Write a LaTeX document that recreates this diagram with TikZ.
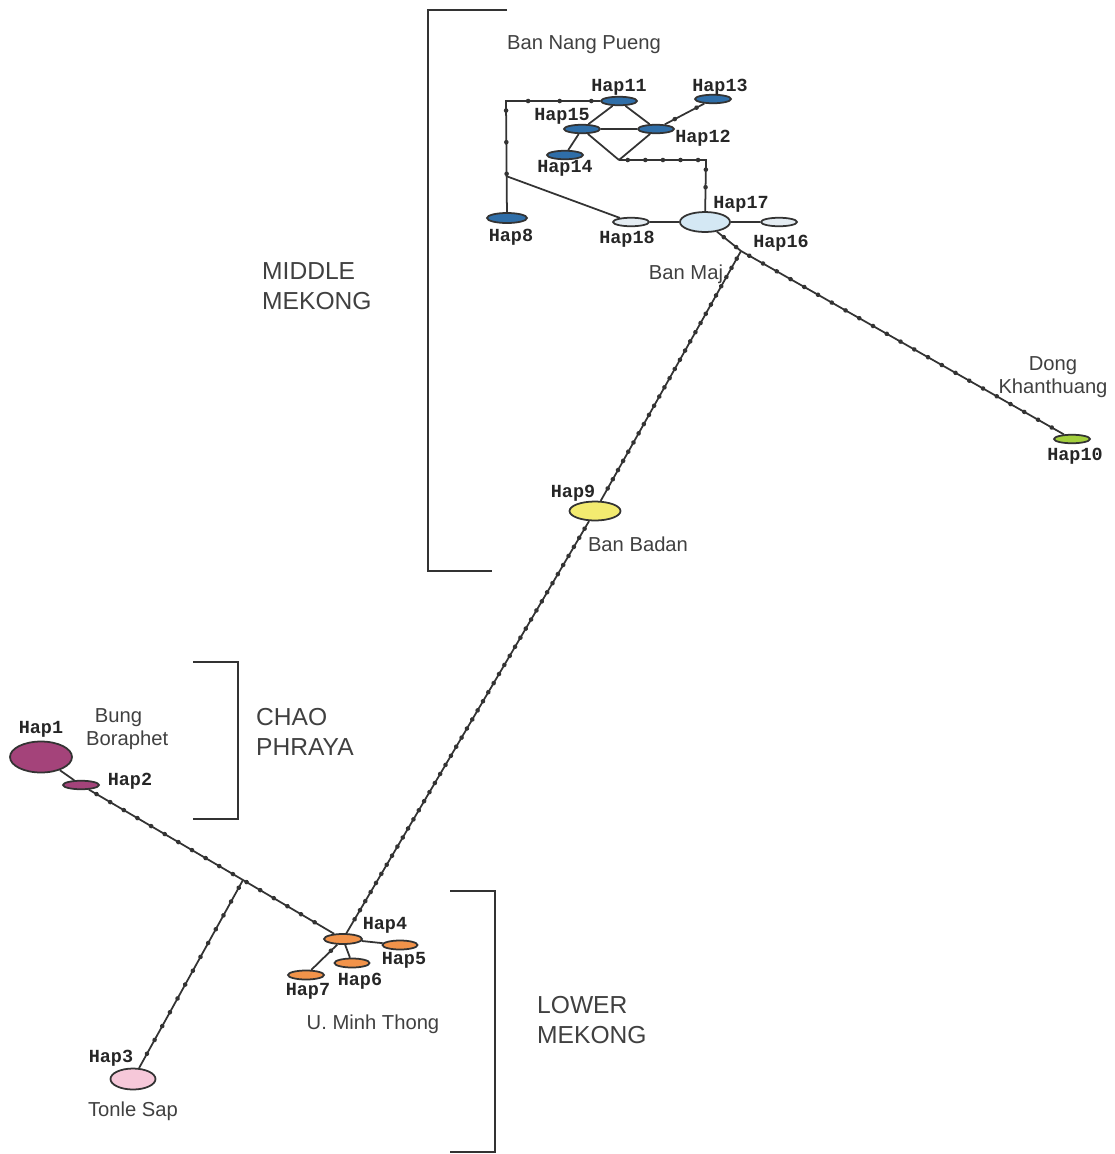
\documentclass[tikz,border=0pt]{standalone}
\usepackage{fontspec}
\setmainfont{Liberation Sans}
\newfontfamily\hapfont{Liberation Mono}
\usepackage{tikz}
\usetikzlibrary{shapes.geometric,decorations.markings}

\definecolor{linegray}{HTML}{333333}
\definecolor{textgray}{HTML}{404040}
\definecolor{hapblue}{HTML}{2F6EA8}
\definecolor{hapice}{HTML}{D4E8F4}
\definecolor{hapwhite}{HTML}{E4ECF2}
\definecolor{hapgreen}{HTML}{A3CF3E}
\definecolor{hapyellow}{HTML}{F3EB70}
\definecolor{haporange}{HTML}{F2934A}
\definecolor{hapmagenta}{HTML}{A4437A}
\definecolor{happink}{HTML}{F6C8D9}

\begin{document}
\begin{tikzpicture}[x=0.02cm,y=-0.02cm,
  hap/.style={ellipse,draw=linegray,line width=1pt,inner sep=0pt},
  thin/.style={minimum width=.72cm,minimum height=.17cm},
  haptxt/.style={font=\hapfont\bfseries\fontsize{10.5}{12}\selectfont,text=black!85},
  place/.style={font=\fontsize{11.5}{13.5}\selectfont,text=textgray,align=center},
  region/.style={font=\fontsize{14}{17}\selectfont,text=textgray,align=left,anchor=west},
  link/.style={draw=linegray,line width=1pt},
  muts/.style={link,postaction={decorate,decoration={markings,
    mark=between positions 5pt and -5pt step #1 with {\fill[linegray] (0,0) circle (1.3pt);}}}},
  muts/.default=9pt,
  bracket/.style={draw=linegray,line width=1.1pt}]
  \useasboundingbox (0,0) rectangle (1115,1154);

  \node[hap,thin,fill=hapblue] (hap11) at (619,101) {};
  \node[hap,thin,fill=hapblue] (hap13) at (713,99) {};
  \node[hap,thin,fill=hapblue] (hap15) at (582,129) {};
  \node[hap,thin,fill=hapblue] (hap12) at (656,129) {};
  \node[hap,thin,fill=hapblue] (hap14) at (565,155) {};
  \node[hap,fill=hapblue,minimum width=.8cm,minimum height=.2cm] (hap8) at (507,218) {};
  \node[hap,thin,fill=hapwhite] (hap18) at (631,222) {};
  \node[hap,fill=hapice,minimum width=1cm,minimum height=.4cm] (hap17) at (705,222) {};
  \node[hap,thin,fill=hapwhite] (hap16) at (779,222) {};
  \node[hap,thin,fill=hapgreen] (hap10) at (1072,439) {};
  \node[hap,fill=hapyellow,minimum width=1.02cm,minimum height=.38cm] (hap9) at (595,511) {};
  \node[hap,fill=hapmagenta,minimum width=1.24cm,minimum height=.62cm] (hap1) at (41,757) {};
  \node[hap,thin,fill=hapmagenta] (hap2) at (81,785) {};
  \node[hap,fill=haporange,minimum width=.76cm,minimum height=.2cm] (hap4) at (343,939) {};
  \node[hap,fill=haporange,minimum width=.7cm,minimum height=.18cm] (hap5) at (400,945) {};
  \node[hap,fill=haporange,minimum width=.7cm,minimum height=.18cm] (hap6) at (352,963) {};
  \node[hap,fill=haporange,minimum width=.72cm,minimum height=.18cm] (hap7) at (306,975) {};
  \node[hap,fill=happink,minimum width=.9cm,minimum height=.42cm] (hap3) at (133,1079) {};

  \coordinate (c1) at (506,101);
  \coordinate (c2) at (506,176);
  \coordinate (mv) at (619,160);
  \coordinate (c3) at (706,160);
  \coordinate (bm) at (741,251);
  \coordinate (jn) at (243,880);

  \draw[muts=18pt] (hap11) -- (c1) -- (hap8);
  \draw[link] (c2) -- (hap18);
  \draw[link] (hap11) -- (hap15);
  \draw[link] (hap11) -- (hap12);
  \draw[link] (hap15) -- (hap12);
  \draw[link] (hap15) -- (mv);
  \draw[link] (hap15) -- (hap14);
  \draw[link] (mv) -- (hap12);
  \draw[muts=14pt] (hap13) -- (hap12);
  \draw[muts=10pt] (mv) -- (c3) -- (hap17);
  \draw[link] (hap18) -- (hap17) -- (hap16);
  \draw[muts] (hap17) -- (bm) -- (hap10);
  \draw[muts=6pt] (bm) -- (hap9);
  \draw[muts=6pt] (hap9) -- (hap4);
  \draw[link] (hap1) -- (hap2);
  \draw[muts] (hap2) -- (jn) -- (hap4);
  \draw[muts] (jn) -- (hap3);
  \draw[link] (hap4) -- (hap5);
  \draw[link] (hap4) -- (hap6);
  \draw[muts=12pt] (hap4) -- (hap7);

  \node[haptxt] (t11) at (619,87) {Hap11};
  \node[haptxt] (t13) at (720,87) {Hap13};
  \node[haptxt] (t15) at (562,116) {Hap15};
  \node[haptxt] (t12) at (703,138) {Hap12};
  \node[haptxt] (t14) at (565,168) {Hap14};
  \node[haptxt] (t8) at (511,237) {Hap8};
  \node[haptxt] (t18) at (627,239) {Hap18};
  \node[haptxt] (t17) at (741,204) {Hap17};
  \node[haptxt] (t16) at (781,243) {Hap16};
  \node[haptxt] (t10) at (1075,456) {Hap10};
  \node[haptxt] (t9) at (573,493) {Hap9};
  \node[haptxt] (t1) at (41,729) {Hap1};
  \node[haptxt] (t2) at (130,781) {Hap2};
  \node[haptxt] (t4) at (385,925) {Hap4};
  \node[haptxt] (t5) at (404,960) {Hap5};
  \node[haptxt] (t6) at (360,981) {Hap6};
  \node[haptxt] (t7) at (308,991) {Hap7};
  \node[haptxt] (t3) at (111,1058) {Hap3};

  \node[place] (pnp) at (584,45) {Ban Nang Pueng};
  \node[place] (pbm) at (686,274) {Ban Maj};
  \node[place] (pdk) at (1053,377) {Dong\\Khanthuang};
  \node[place] (pbb) at (638,544) {Ban Badan};
  \node[place,align=left,anchor=west] (pbb2) at (80,729) {\hspace{5pt}Bung\\Boraphet};
  \node[place] (pmt) at (373,1024) {U. Minh Thong};
  \node[place] (pts) at (133,1111) {Tonle Sap};

  \node[region] (rmm) at (256,286) {MIDDLE\\MEKONG};
  \node[region] (rcp) at (250,732) {CHAO\\PHRAYA};
  \node[region] (rlm) at (531,1020) {LOWER\\MEKONG};

  \draw[bracket] (507,10) -| (428,571) -- (492,571);
  \draw[bracket] (193,662) -| (238,819) -- (193,819);
  \draw[bracket] (450,891) -| (495,1152) -- (450,1152);
\end{tikzpicture}
\end{document}
